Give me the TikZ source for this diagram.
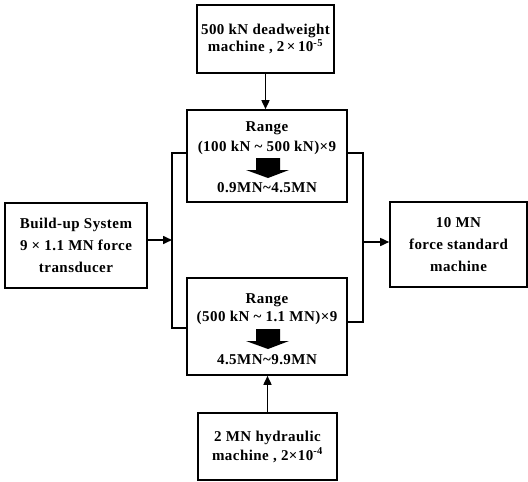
\documentclass[tikz,border=0pt]{standalone}
\usepackage{fontspec}
\setmainfont{Liberation Serif}[LetterSpace=3]
\usetikzlibrary{arrows.meta}
\begin{document}
\begin{tikzpicture}[x=1pt,y=-1pt,line width=1.6pt,
  box/.style={draw, rectangle, inner sep=0pt, align=center,
    font=\bfseries\fontsize{15}{20}\selectfont},
  txt/.style={inner sep=0pt, align=center, font=\bfseries\fontsize{15}{20}\selectfont},
  arr/.style={-{Triangle[length=9pt,width=8pt]}},
  blk/.style={fill=black, draw=none}]
\useasboundingbox (0,0) rectangle (528,482);
% boxes
\node[box, minimum width=137pt, minimum height=68pt,
  font=\bfseries\fontsize{15}{17}\selectfont] (top) at (265.5,39)
  {500 kN deadweight\\machine , 2\,×\,10\textsuperscript{-5}};
\node[box, minimum width=160pt, minimum height=92pt] (up) at (267,156) {};
\node[box, minimum width=160pt, minimum height=97pt] (lo) at (267,326.5) {};
\node[box, minimum width=139pt, minimum height=67pt,
  font=\bfseries\fontsize{15}{19}\selectfont] (bot) at (267.5,446.5)
  {2 MN hydraulic\\machine , 2×10\textsuperscript{-4}};
\node[box, minimum width=142pt, minimum height=85pt,
  font=\bfseries\fontsize{15}{22}\selectfont] (left) at (76,245.5)
  {Build-up System\\9 × 1.1 MN force\\transducer};
\node[box, minimum width=137pt, minimum height=85pt,
  font=\bfseries\fontsize{15}{22}\selectfont] (right) at (458.5,244.5)
  {10 MN\\force standard\\machine};
% texts inside the range boxes
\node[txt] (upr) at (267,128) {Range};
\node[txt] (upi) at (267,148) {(100 kN \textasciitilde{} 500 kN)×9};
\node[txt] (upo) at (267,188) {0.9MN\textasciitilde{}4.5MN};
\node[txt] (lor) at (267,300) {Range};
\node[txt] (loi) at (267,318) {(500 kN \textasciitilde{} 1.1 MN)×9};
\node[txt] (loo) at (267,360) {4.5MN\textasciitilde{}9.9MN};
% block arrows
\fill[blk] (256,158) -- (280,158) -- (280,170) -- (289,170) -- (268,178)
  -- (246,170) -- (256,170) -- cycle;
\fill[blk] (256,329) -- (280,329) -- (280,341) -- (289,341) -- (268,349)
  -- (246,341) -- (256,341) -- cycle;
% connectors
\coordinate (lb) at (172,240);
\coordinate (lt) at (172,153);
\coordinate (lbt) at (172,328);
\coordinate (rt) at (363,153);
\coordinate (rb) at (363,322);
\coordinate (ro) at (363,242);
\draw[arr] (top.south) -- (top.south |- up.north);
\draw[arr] (bot.north) -- (bot.north |- lo.south);
\draw[arr] (left.east |- lb) -- (lb);
\draw (up.west |- lt) -- (lt) -- (lbt) -- (lo.west |- lbt);
\draw (up.east |- rt) -- (rt) -- (rb) -- (lo.east |- rb);
\draw[arr] (ro) -- (right.west |- ro);
\end{tikzpicture}
\end{document}
